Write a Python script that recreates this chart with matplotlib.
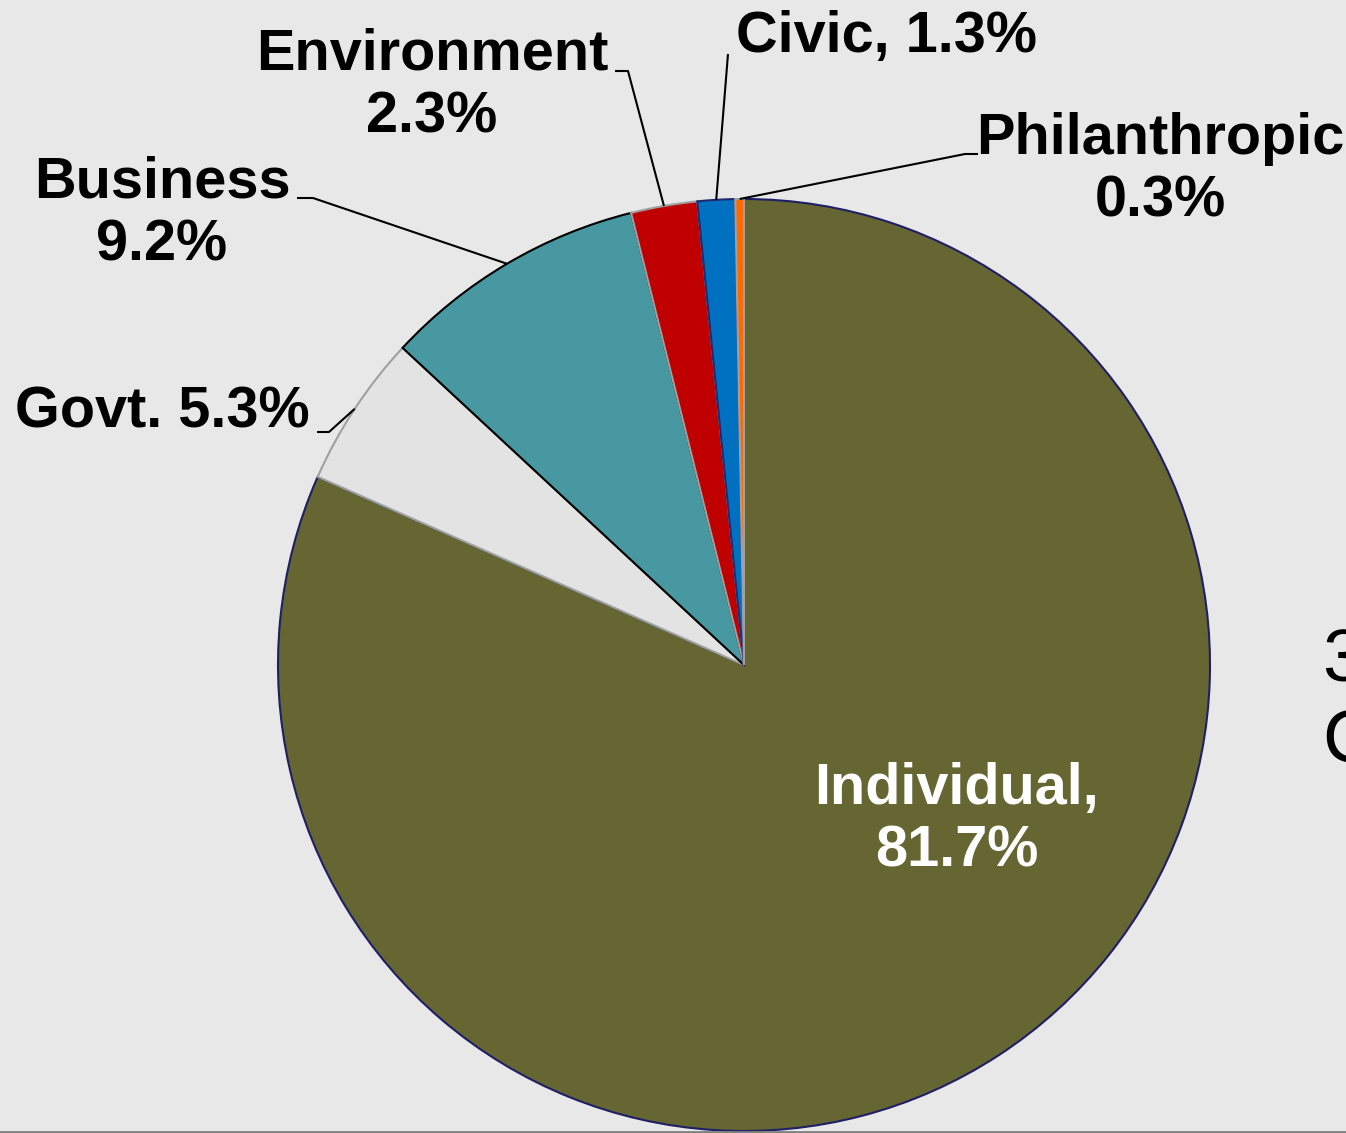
import numpy as np
import matplotlib
matplotlib.use("Agg")
import matplotlib.pyplot as plt

categories = ["Philanthropic", "Civic", "Environment", "Business", "Govt.", "Individual"]
values = [0.3, 1.3, 2.3, 9.2, 5.3, 81.7]
colors = ["#ff6a00", "#0070c0", "#c00000", "#4798a0", "#e3e3e3", "#666633"]
edges = ["#a0a0a0", "#1f2a70", "#a0a0a0", "#000000", "#a0a0a0", "#1f1f66"]
label_texts = ["Philanthropic\n0.3%", "Civic, 1.3%", "Environment\n2.3%",
               "Business\n9.2%", "Govt. 5.3%", "Individual,\n81.7%"]

W, H = 1346, 1133
fig = plt.figure(figsize=(W / 100, H / 100), dpi=100)
fig.patch.set_facecolor("#e8e8e8")
ax = fig.add_axes([0, 0, 1, 1])
ax.set_xlim(0, W)
ax.set_ylim(0, H)
ax.set_aspect("equal")
ax.axis("off")

cx, cy, R = 744, H - 665, 466
wedges, _ = ax.pie(values, colors=colors, startangle=90, counterclock=True,
                   center=(cx, cy), radius=R, frame=True,
                   wedgeprops=dict(linewidth=1.5))
n = len(wedges)
for i, (w, ec) in enumerate(zip(wedges, edges)):
    w.set_edgecolor(ec)
    w.set_zorder(2 + (n - i) * 0.1)
ax.set_xlim(0, W)
ax.set_ylim(0, H)
ax.axis("off")

font = dict(family=["Liberation Sans", "DejaVu Sans"], fontweight="bold", fontsize=41.5)

# label positions (text center) and elbow points in image pixel coords (y down)
layout = {
    "Philanthropic": dict(xy=(1160, 170), ha="center", elbow=[(978, 154), (965, 154)]),
    "Civic": dict(xy=(886, 37), ha="center", elbow=[(728, 54)]),
    "Environment": dict(xy=(432, 86), ha="center", elbow=[(615, 71), (628, 71)]),
    "Business": dict(xy=(162, 214), ha="center", elbow=[(297, 198), (313, 198)]),
    "Govt.": dict(xy=(162, 412), ha="center", elbow=[(317, 432), (329, 432)]),
}

cum = 0.0
total = sum(values)
for w, cat, txt, v in zip(wedges, categories, label_texts, values):
    mid = np.deg2rad(90 + (cum + v / 2) / total * 360)
    cum += v
    if cat == "Individual":
        ax.text(957, H - 820, txt, color="white", ha="center", va="center",
                linespacing=1.2, zorder=6, **font)
        continue
    L = layout[cat]
    ax.text(L["xy"][0], H - L["xy"][1], txt, color="black", ha=L["ha"], va="center",
            linespacing=1.2, zorder=6, **font)
    ex = cx + R * np.cos(mid)
    ey = cy + R * np.sin(mid)
    pts = [(x, H - y) for x, y in L["elbow"]] + [(ex, ey)]
    xs, ys = zip(*pts)
    ax.plot(xs, ys, color="black", linewidth=1.5, solid_capstyle="butt", zorder=5)

# cut-off text on the right edge
fig.text(1322 / W, 1 - 702 / H, "3\nC", ha="left", va="center",
         family=["Liberation Sans", "DejaVu Sans"], fontsize=54, linespacing=1.2,
         color="black")

# bottom border line
ax.plot([0, W], [1, 1], color="#808080", linewidth=2, clip_on=False, zorder=7)

fig.savefig("out.png", dpi=100, facecolor=fig.get_facecolor())
